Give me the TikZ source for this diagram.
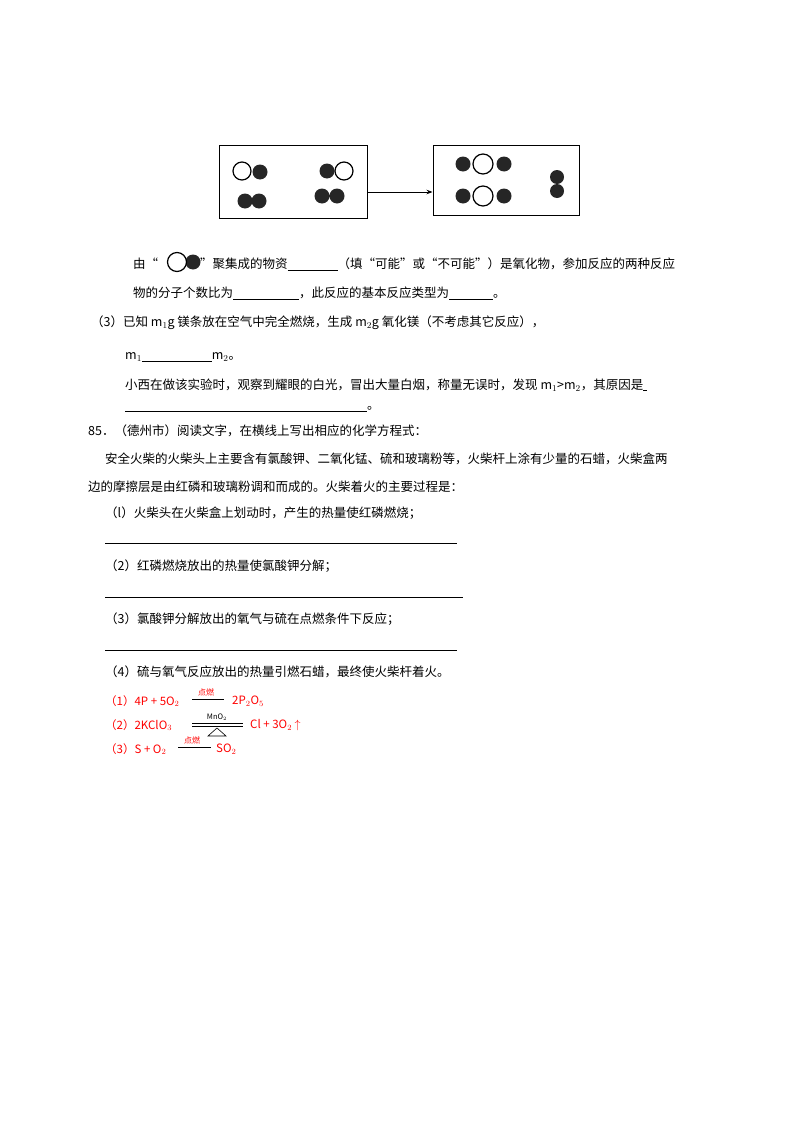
\documentclass[tikz,border=0pt]{standalone}
\usepackage{fontspec}
\setmainfont{Noto Sans CJK SC}
\usetikzlibrary{arrows.meta}
\newcommand{\blank}[1]{\underline{\makebox[#1]{}}}
\begin{document}
\begin{tikzpicture}[x=1pt,y=-1pt,
  txt/.style={anchor=west,inner sep=0pt,font=\fontsize{12.5}{14}\selectfont},
  red/.style={anchor=west,inner sep=0pt,text=red,font=\fontsize{11.5}{13}\selectfont},
  tiny/.style={inner sep=0pt,text=red,font=\fontsize{8}{9}\selectfont},
  wh/.style={draw=black,line width=1.2pt,fill=white},
  bk/.style={fill=black!85}]
\useasboundingbox (0,0) rectangle (800,1132);
% boxes
\node[draw,line width=1pt,minimum width=148pt,minimum height=73pt,inner sep=0pt] (b1) at (293,181.5) {};
\node[draw,line width=1pt,minimum width=146pt,minimum height=70pt,inner sep=0pt] (b2) at (506,180) {};
\draw[-{Stealth[length=6pt]},line width=0.8pt] (b1.east|-0,192) -- (b2.west|-0,192);
% box1 molecules
\fill[bk] (260,172) circle (7.5); \draw[wh] (242,171) circle (9);
\fill[bk] (327,171) circle (7.5); \draw[wh] (344,171) circle (9);
\fill[bk] (245,201) circle (7.5) (259,201) circle (7.5);
\fill[bk] (322,196) circle (7.5) (337,196) circle (7.5);
% box2 molecules
\foreach \y in {164,196}{\fill[bk] (463,\y) circle (7.5) (504,\y) circle (7.5); \draw[wh] (483,\y) circle (10);}
\fill[bk] (557,177) circle (7) (557,191) circle (7);
% text
\node[txt] (t0) at (133,264) {由“};
\fill[bk] (193,262) circle (7.5); \draw[wh] (177,262) circle (9.5);
\node[txt] (t1) at (200,264) {”聚集成的物资\blank{50pt}（填“可能”或“不可能”）是氧化物，参加反应的两种反应};
\node[txt] (t2) at (133,293) {物的分子个数比为\blank{66pt}，此反应的基本反应类型为\blank{44pt}。};
\node[txt] (t3) at (91,323) {（3）已知 m$_1$g 镁条放在空气中完全燃烧，生成 m$_2$g 氧化镁（不考虑其它反应），};
\node[txt] (t4) at (125,357) {m$_1$\blank{70pt}m$_2$。};
\node[txt] (t5) at (125,385) {小西在做该实验时，观察到耀眼的白光，冒出大量白烟，称量无误时，发现 m$_1$>m$_2$，其原因是\blank{4pt}};
\node[txt] (t6) at (125,409) {\blank{242pt}。};
\node[txt] (t7) at (88,431) {85．（德州市）阅读文字，在横线上写出相应的化学方程式：};
\node[txt] (t8) at (105,459) {安全火柴的火柴头上主要含有氯酸钾、二氧化锰、硫和玻璃粉等，火柴杆上涂有少量的石蜡，火柴盒两};
\node[txt] (t9) at (88,487) {边的摩擦层是由红磷和玻璃粉调和而成的。火柴着火的主要过程是：};
\node[txt] (t10) at (105,513) {（l）火柴头在火柴盒上划动时，产生的热量使红磷燃烧；};
\draw[line width=0.6pt] (105,543) -- (457,543);
\node[txt] (t11) at (105,566) {（2）红磷燃烧放出的热量使氯酸钾分解；};
\draw[line width=0.6pt] (105,597) -- (463,597);
\node[txt] (t12) at (105,619) {（3）氯酸钾分解放出的氧气与硫在点燃条件下反应；};
\draw[line width=0.6pt] (105,650) -- (457,650);
\node[txt] (t13) at (105,672) {（4）硫与氧气反应放出的热量引燃石蜡，最终使火柴杆着火。};
% red equations
\node[red] (e1) at (105,701) {（1）4P + 5O$_2$};
\draw[red,line width=0.5pt] (192,699) -- (224,699);
\node[tiny] at (206,692) {点燃};
\node[red] (e1b) at (232,701) {2P$_2$O$_5$};
\node[red] (e2) at (105,725) {（2）2KClO$_3$};
\draw[line width=0.6pt] (192,723) -- (243,723) (192,726) -- (243,726);
\node[inner sep=0pt,font=\fontsize{7.5}{8}\selectfont] at (217,717) {MnO$_2$};
\draw[line width=0.6pt] (208,736) -- (217,728) -- (226,736) -- cycle;
\node[red] (e2b) at (250,725) {Cl + 3O$_2$ $\uparrow$};
\node[red] (e3) at (105,749) {（3）S + O$_2$};
\draw[red,line width=0.5pt] (178,747) -- (211,747);
\node[tiny] at (192,740) {点燃};
\node[red] (e3b) at (216,749) {SO$_2$};
\end{tikzpicture}
\end{document}
